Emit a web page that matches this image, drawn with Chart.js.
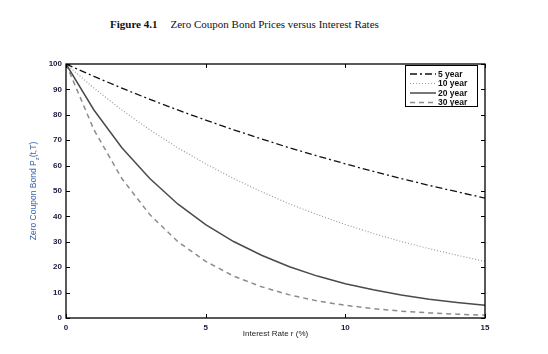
<!DOCTYPE html>
<html>
<head>
<meta charset="utf-8">
<script src="https://cdn.jsdelivr.net/npm/chart.js@4"></script>
<style>
  html, body { margin: 0; padding: 0; background: #fff; }
  #wrap { position: relative; width: 548px; height: 354px; }
  #title {
    position: absolute; left: 110px; top: 18px; white-space: nowrap;
    font-family: "Liberation Serif", "Times New Roman", serif; font-size: 11px; color: #111;
  }
  #title b { margin-right: 13px; }
  canvas { position: absolute; left: 0; top: 0; }
</style>
</head>
<body>
<div id="wrap">
  <div id="title"><b>Figure 4.1</b>Zero Coupon Bond Prices versus Interest Rates</div>
  <canvas id="chart" width="548" height="354"></canvas>
</div>
<script>
// interest rate (%) and bond price
const rates = [0, 1, 2, 3, 4, 5, 6, 7, 8, 9, 10, 11, 12, 13, 14, 15];
const year5 = [100, 95.1, 90.5, 86.1, 81.9, 77.9, 74.1, 70.5, 67.0, 63.8, 60.7, 57.7, 54.9, 52.2, 49.7, 47.2];
const year10 = [100, 90.5, 81.9, 74.1, 67.0, 60.7, 54.9, 49.7, 44.9, 40.7, 36.8, 33.3, 30.1, 27.3, 24.7, 22.3];
const year20 = [100, 81.9, 67.0, 54.9, 44.9, 36.8, 30.1, 24.7, 20.2, 16.5, 13.5, 11.1, 9.1, 7.4, 6.1, 5.0];
const year30 = [100, 74.1, 54.9, 40.7, 30.1, 22.3, 16.5, 12.3, 9.1, 6.7, 5.0, 3.7, 2.7, 2.0, 1.5, 1.1];
const seriesNames = ["5 year", "10 year", "20 year", "30 year"];
const xTicks = [0, 5, 10, 15];
const yTicks = [0, 10, 20, 30, 40, 50, 60, 70, 80, 90, 100];

const tickFont = { family: "Liberation Sans, Arial, sans-serif", size: 8, weight: "bold" };

function pts(vals) {
  return rates.map((r, i) => ({ x: r, y: vals[i] }));
}

// box around plot with inward ticks on every side
const frame = {
  id: "frame",
  afterDatasetsDraw(chart) {
    const { ctx, chartArea: a, scales } = chart;
    ctx.save();
    ctx.strokeStyle = "#000";
    ctx.lineWidth = 1;
    ctx.beginPath();
    xTicks.forEach(v => {
      const px = Math.round(scales.x.getPixelForValue(v)) + 0.5;
      ctx.moveTo(px, a.bottom); ctx.lineTo(px, a.bottom - 4);
      ctx.moveTo(px, a.top); ctx.lineTo(px, a.top + 4);
    });
    yTicks.forEach(v => {
      const py = Math.round(scales.y.getPixelForValue(v)) + 0.5;
      ctx.moveTo(a.left, py); ctx.lineTo(a.left + 4, py);
      ctx.moveTo(a.right, py); ctx.lineTo(a.right - 4, py);
    });
    ctx.stroke();
    ctx.lineWidth = 1.3;
    ctx.strokeRect(a.left, a.top, a.right - a.left, a.bottom - a.top);

    // y axis title with subscript
    ctx.translate(34, (a.top + a.bottom) / 2);
    ctx.rotate(-Math.PI / 2);
    ctx.fillStyle = "#3a62ad";
    ctx.textBaseline = "middle";
    const big = "8.5px 'Liberation Sans Narrow', 'Liberation Sans', Arial, sans-serif";
    const small = "6px 'Liberation Sans Narrow', 'Liberation Sans', Arial, sans-serif";
    const p1 = "Zero Coupon Bond P", p2 = "z", p3 = "(t,T)";
    ctx.font = big;
    const w1 = ctx.measureText(p1).width, w3 = ctx.measureText(p3).width;
    ctx.font = small;
    const w2 = ctx.measureText(p2).width;
    let x0 = -(w1 + w2 + w3) / 2;
    ctx.font = big;
    ctx.fillText(p1, x0, 0);
    ctx.font = small;
    ctx.fillText(p2, x0 + w1, 3);
    ctx.font = big;
    ctx.fillText(p3, x0 + w1 + w2, 0);
    ctx.restore();
  }
};

// legend box at top right inside the plot
const legendBox = {
  id: "legendBox",
  afterDraw(chart) {
    const { ctx } = chart;
    const bx = 405, by = 65, bw = 72, bh = 41;
    ctx.save();
    ctx.fillStyle = "#fff";
    ctx.fillRect(bx, by, bw, bh);
    ctx.strokeStyle = "#000";
    ctx.lineWidth = 1;
    ctx.strokeRect(bx + 0.5, by + 0.5, bw, bh);
    chart.data.datasets.forEach((ds, i) => {
      const y = by + 9 + i * 9.5;
      ctx.strokeStyle = ds.borderColor;
      ctx.lineWidth = ds.borderWidth;
      ctx.setLineDash(ds.borderDash || []);
      ctx.beginPath();
      ctx.moveTo(bx + 5, y);
      ctx.lineTo(bx + 31, y);
      ctx.stroke();
      ctx.setLineDash([]);
      ctx.fillStyle = "#111";
      ctx.font = "bold 8.5px 'Liberation Sans', Arial, sans-serif";
      ctx.textBaseline = "middle";
      ctx.fillText(ds.label, bx + 33, y + 0.5);
    });
    ctx.restore();
  }
};

new Chart(document.getElementById("chart"), {
  type: "line",
  data: {
    datasets: [
      { label: seriesNames[0], data: pts(year5), borderColor: "#111", borderWidth: 1.3, borderDash: [7, 3, 2, 3] },
      { label: seriesNames[1], data: pts(year10), borderColor: "#999", borderWidth: 1.2, borderDash: [1, 2] },
      { label: seriesNames[2], data: pts(year20), borderColor: "#4a4a4a", borderWidth: 1.5 },
      { label: seriesNames[3], data: pts(year30), borderColor: "#8c8c8c", borderWidth: 1.5, borderDash: [5, 4] }
    ]
  },
  options: {
    responsive: false,
    animation: false,
    events: [],
    layout: { padding: { top: 64, right: 63, bottom: 14, left: 0 } },
    elements: { point: { radius: 0 }, line: { tension: 0, fill: false } },
    plugins: { legend: { display: false }, tooltip: { enabled: false } },
    scales: {
      x: {
        type: "linear", min: 0, max: 15,
        afterBuildTicks: s => { s.ticks = xTicks.map(v => ({ value: v })); },
        afterFit: s => { s.height = 22; },
        grid: { display: false, drawTicks: false },
        border: { display: false },
        ticks: { font: tickFont, color: "#1a1a40", padding: 5, maxRotation: 0 },
        title: {
          display: true, text: "Interest Rate r (%)", color: "#222",
          font: { family: "Liberation Sans, Arial, sans-serif", size: 8 },
          padding: { top: 0, bottom: 1 }
        }
      },
      y: {
        min: 0, max: 100,
        afterBuildTicks: s => { s.ticks = yTicks.map(v => ({ value: v })); },
        afterFit: s => { s.width = 66; },
        grid: { display: false, drawTicks: false },
        border: { display: false },
        ticks: { font: tickFont, color: "#1a1a40", padding: 4 }
      }
    }
  },
  plugins: [frame, legendBox]
});
</script>
</body>
</html>
